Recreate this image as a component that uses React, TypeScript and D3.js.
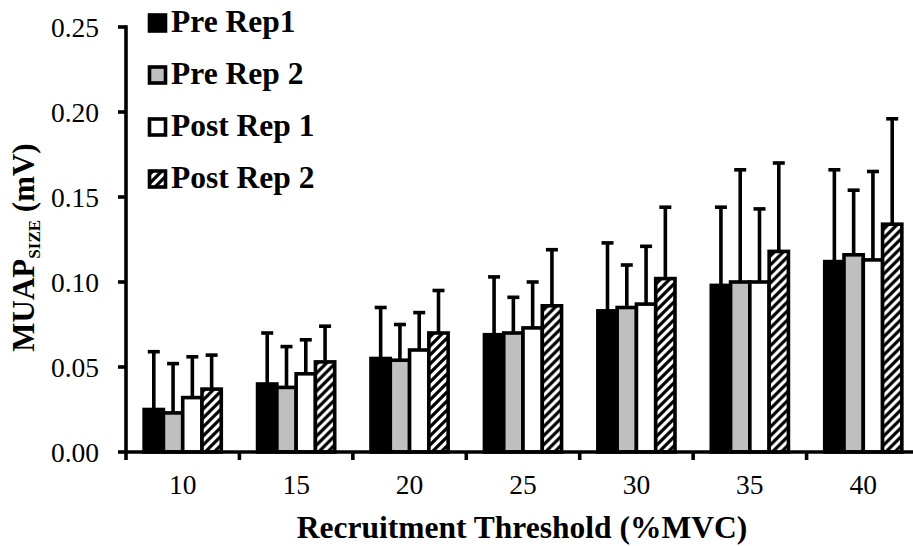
import React from "react";
import * as d3 from "d3";

// recruitment threshold groups (%MVC)
const thresholds = ["10", "15", "20", "25", "30", "35", "40"];
const seriesNames = ["Pre Rep1", "Pre Rep 2", "Post Rep 1", "Post Rep 2"];

// MUAP size means (mV) and SDs
const preRep1 = [0.025, 0.04, 0.055, 0.069, 0.083, 0.098, 0.112];
const preRep1Sd = [0.034, 0.03, 0.03, 0.034, 0.04, 0.046, 0.054];
const preRep2 = [0.023, 0.038, 0.054, 0.07, 0.085, 0.1, 0.116];
const preRep2Sd = [0.029, 0.024, 0.021, 0.021, 0.025, 0.066, 0.038];
const postRep1 = [0.032, 0.046, 0.06, 0.073, 0.087, 0.1, 0.113];
const postRep1Sd = [0.024, 0.02, 0.022, 0.027, 0.034, 0.043, 0.052];
const postRep2 = [0.037, 0.053, 0.07, 0.086, 0.102, 0.118, 0.134];
const postRep2Sd = [0.02, 0.021, 0.025, 0.033, 0.042, 0.052, 0.062];

const yTicks = [0, 0.05, 0.1, 0.15, 0.2, 0.25];

const means = [preRep1, preRep2, postRep1, postRep2];
const sds = [preRep1Sd, preRep2Sd, postRep1Sd, postRep2Sd];
const fills = ["#000000", "#bfbfbf", "#ffffff", "url(#hatch)"];

const FONT = "'Liberation Serif', 'Times New Roman', serif";
const SW = 3.6; // line weight used across the chart

const App = () => {
  const width = 913;
  const height = 546;
  const margin = { left: 126, right: -7, top: 27, bottom: 94 };
  const plotBottom = height - margin.bottom;

  const x = d3
    .scaleBand<string>()
    .domain(thresholds)
    .range([margin.left, width - margin.right])
    .paddingInner(0.32)
    .paddingOuter(0.16);

  const xInner = d3
    .scaleBand<number>()
    .domain(d3.range(seriesNames.length))
    .range([0, x.bandwidth()]);

  const y = d3.scaleLinear().domain([0, 0.25]).range([plotBottom, margin.top]);

  const step = x.step();
  const capHalf = 6;

  return (
    <svg
      width={width}
      height={height}
      style={{ position: "absolute", left: 0, top: 0, background: "#fff" }}
    >
      <defs>
        <pattern
          id="hatch"
          patternUnits="userSpaceOnUse"
          width={9}
          height={9}
        >
          <rect width={9} height={9} fill="#fff" />
          <path
            d="M-2,2 L2,-2 M0,9 L9,0 M7,11 L11,7"
            stroke="#000"
            strokeWidth={3.2}
          />
        </pattern>
      </defs>

      {/* bars */}
      {thresholds.map((t, i) => (
        <g key={t} transform={`translate(${x(t)},0)`}>
          {means.map((vals, s) => (
            <rect
              key={s}
              x={xInner(s)}
              y={y(vals[i])}
              width={xInner.bandwidth()}
              height={plotBottom - y(vals[i])}
              fill={fills[s]}
              stroke="#000"
              strokeWidth={SW}
            />
          ))}
          {/* error bars, upper only */}
          {means.map((vals, s) => {
            const cx = (xInner(s) || 0) + xInner.bandwidth() / 2;
            const top = y(vals[i] + sds[s][i]);
            return (
              <g key={`e${s}`} stroke="#000" strokeWidth={SW}>
                <line x1={cx} x2={cx} y1={y(vals[i])} y2={top} />
                <line x1={cx - capHalf} x2={cx + capHalf} y1={top} y2={top} />
              </g>
            );
          })}
        </g>
      ))}

      {/* y axis */}
      <line
        x1={margin.left}
        x2={margin.left}
        y1={y(0.25) - SW / 2}
        y2={plotBottom + 8}
        stroke="#000"
        strokeWidth={SW}
      />
      {yTicks.map((t) => (
        <g key={t} transform={`translate(0,${y(t)})`}>
          <line x1={margin.left - 8} x2={margin.left} stroke="#000" strokeWidth={SW} />
          <text
            x={99}
            dy="0.36em"
            textAnchor="end"
            fontFamily={FONT}
            fontSize={27.5}
          >
            {t.toFixed(2)}
          </text>
        </g>
      ))}

      {/* x axis */}
      <line
        x1={margin.left - SW / 2}
        x2={width - margin.right}
        y1={plotBottom}
        y2={plotBottom}
        stroke="#000"
        strokeWidth={SW}
      />
      {thresholds.map((t, i) => {
        const bx = margin.left + step * (i + 1);
        return (
          <line
            key={`t${t}`}
            x1={bx}
            x2={bx}
            y1={plotBottom}
            y2={plotBottom + 8}
            stroke="#000"
            strokeWidth={SW}
          />
        );
      })}
      {thresholds.map((t) => (
        <text
          key={`l${t}`}
          x={(x(t) || 0) + x.bandwidth() / 2}
          y={494}
          textAnchor="middle"
          fontFamily={FONT}
          fontSize={27.5}
        >
          {t}
        </text>
      ))}

      {/* axis titles */}
      <text
        x={522}
        y={538}
        textAnchor="middle"
        fontFamily={FONT}
        fontWeight="bold"
        fontSize={31.5}
      >
        Recruitment Threshold (%MVC)
      </text>
      <text
        transform={`translate(34,${(margin.top + plotBottom) / 2 + 8}) rotate(-90)`}
        textAnchor="middle"
        fontFamily={FONT}
        fontWeight="bold"
        fontSize={31}
      >
        MUAP
        <tspan fontSize={17} dy={6}>
          SIZE
        </tspan>
        <tspan dy={-6}> (mV)</tspan>
      </text>

      {/* legend */}
      {seriesNames.map((name, s) => {
        const base = 32 + s * 52;
        return (
          <g key={name}>
            <rect
              x={149.5}
              y={base - 17}
              width={16}
              height={16}
              fill={fills[s]}
              stroke="#000"
              strokeWidth={SW}
            />
            <text
              x={171}
              y={base}
              fontFamily={FONT}
              fontWeight="bold"
              fontSize={31.5}
            >
              {name}
            </text>
          </g>
        );
      })}
    </svg>
  );
};

export default App;
